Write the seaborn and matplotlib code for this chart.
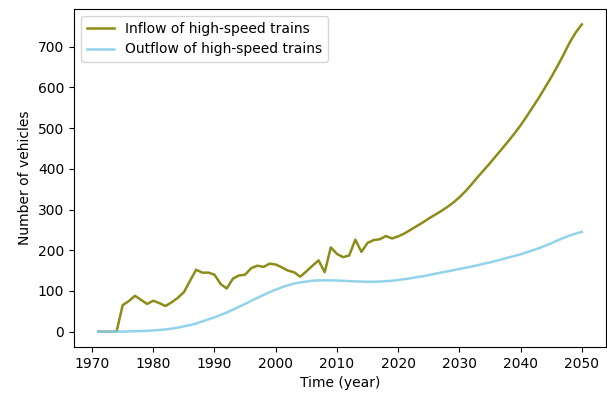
import numpy as np
import pandas as pd
import seaborn as sns
import matplotlib
matplotlib.use("Agg")
import matplotlib.pyplot as plt

# 年份
years = list(range(1971, 2051))

# 高铁流入量
inflow = [0, 0, 0, 0, 65, 75, 88, 78, 68, 76,
          70, 63, 72, 83, 97, 125, 152, 145, 145, 140,
          117, 106, 130, 138, 140, 156, 162, 159, 167, 165,
          158, 150, 146, 135, 148, 162, 175, 146, 207, 191,
          183, 187, 226, 196, 218, 225, 227, 235, 229, 234,
          241, 250, 259, 268, 278, 287, 296, 306, 317, 330,
          345, 362, 380, 397, 414, 432, 450, 468, 487, 507,
          529, 552, 575, 600, 625, 652, 680, 710, 735, 755]

# 高铁流出量
outflow = [0, 0, 0, 0, 0, 0.5, 1, 1.5, 2, 3,
           4, 5.5, 7.5, 10, 13, 16, 20, 25, 30, 35,
           41, 47, 54, 61, 68, 76, 83, 90, 97, 103,
           109, 114, 118, 121, 123, 125, 126, 126, 126, 125.5,
           125, 124, 123.5, 123, 122.5, 122.5, 123, 124, 125, 127,
           129, 131, 134, 136, 139, 142, 145, 148, 151, 154,
           157, 160, 163, 167, 170, 174, 178, 182, 186, 190,
           195, 200, 205, 211, 217, 224, 230, 236, 241, 245]

df = pd.DataFrame({"year": years, "inflow": inflow, "outflow": outflow})

fig = plt.figure(figsize=(6.07, 3.96), dpi=100)
ax = fig.add_subplot(111)
fig.subplots_adjust(left=74/607, right=606/607, top=1-9/396, bottom=1-347/396)

sns.lineplot(data=df, x="year", y="inflow", color="olive", linewidth=1.8, alpha=0.9,
             label="Inflow of high-speed trains", ax=ax)
sns.lineplot(data=df, x="year", y="outflow", color="skyblue", linewidth=1.8, alpha=0.9,
             label="Outflow of high-speed trains", ax=ax)

ax.set_xlabel("Time (year)")
ax.set_ylabel("Number of vehicles")
ax.legend(loc="upper left")

plt.savefig("out.png", dpi=100)
